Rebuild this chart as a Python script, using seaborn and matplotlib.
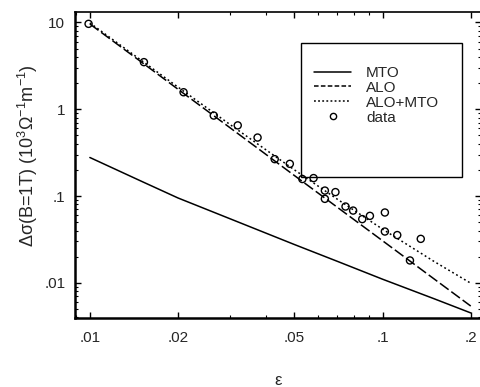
import numpy as np
import pandas as pd
import matplotlib
matplotlib.use("Agg")
import matplotlib.pyplot as plt
from matplotlib.patches import Rectangle
from matplotlib.lines import Line2D
import seaborn as sns

# ---- data ----
eps_curve = [0.01, 0.015, 0.02, 0.03, 0.05, 0.07, 0.1, 0.15, 0.2]
mto = [0.278, 0.148, 0.095, 0.055, 0.0276, 0.0177, 0.011, 0.00655, 0.0045]
alo = [9.6, 3.50, 1.70, 0.618, 0.172, 0.0743, 0.0305, 0.01107, 0.0054]
alo_mto = [9.88, 3.65, 1.80, 0.673, 0.200, 0.092, 0.0415, 0.0176, 0.0099]

data_eps = [0.0099, 0.0153, 0.0209, 0.0265, 0.0320, 0.0374, 0.0428, 0.0482,
            0.0532, 0.0581, 0.0635, 0.0690, 0.0635, 0.0747, 0.0793, 0.0852,
            0.0905, 0.1018, 0.1018, 0.1122, 0.135, 0.124]
data_y = [9.64, 3.49, 1.57, 0.846, 0.652, 0.472, 0.266, 0.235,
          0.157, 0.161, 0.1156, 0.111, 0.0928, 0.0757, 0.068, 0.0542,
          0.0591, 0.0646, 0.039, 0.0355, 0.0321, 0.0181]

curve_names = ["MTO", "ALO", "ALO+MTO"]
x_ticks = [0.01, 0.02, 0.05, 0.1, 0.2]
x_ticklabels = [".01", ".02", ".05", ".1", ".2"]
y_ticks = [0.01, 0.1, 1, 10]
y_ticklabels = [".01", ".1", "1", "10"]

# ---- styling ----
sns.set_style("ticks")
plt.rcParams["font.family"] = ["Liberation Sans", "DejaVu Sans"]
plt.rcParams["mathtext.fontset"] = "custom"
plt.rcParams["mathtext.rm"] = "Liberation Sans"
plt.rcParams["mathtext.it"] = "Liberation Sans:italic"
plt.rcParams["mathtext.default"] = "regular"

fig = plt.figure(figsize=(4.81, 3.87), dpi=100)
ax = fig.add_axes([0.156, 0.1775, 0.843, 0.7915])

df = pd.DataFrame({
    "eps": eps_curve * 3,
    "val": mto + alo + alo_mto,
    "curve": sum([[n] * len(eps_curve) for n in curve_names], []),
})
dash_map = {"MTO": "", "ALO": (7, 2.2), "ALO+MTO": (1.2, 1.8)}
sns.lineplot(data=df, x="eps", y="val", style="curve", style_order=curve_names,
             dashes=dash_map, color="black", linewidth=1.1, ax=ax, legend=False,
             sort=False)

sns.scatterplot(x=data_eps, y=data_y, marker="o", facecolor="none",
                edgecolor="black", linewidth=1.0, s=26, ax=ax, legend=False,
                zorder=3)

ax.set_xscale("log")
ax.set_yscale("log")
ax.set_xlim(0.0089, 0.216)
ax.set_ylim(0.0039, 13.2)

ax.set_xticks(x_ticks)
ax.set_xticklabels(x_ticklabels, fontsize=11)
ax.set_yticks(y_ticks)
ax.set_yticklabels(y_ticklabels, fontsize=11)
ax.xaxis.set_minor_locator(matplotlib.ticker.LogLocator(base=10, subs=np.arange(2, 10)))
ax.yaxis.set_minor_locator(matplotlib.ticker.LogLocator(base=10, subs=np.arange(2, 10)))
ax.xaxis.set_minor_formatter(matplotlib.ticker.NullFormatter())
ax.yaxis.set_minor_formatter(matplotlib.ticker.NullFormatter())
ax.tick_params(which="both", direction="in", top=True, right=True, color="black")
ax.tick_params(which="major", length=4, width=1)
ax.tick_params(axis="x", which="major", pad=9)
ax.tick_params(axis="y", which="major", pad=7)
ax.tick_params(which="minor", length=2.5, width=0.8)

for side in ["left", "bottom"]:
    ax.spines[side].set_linewidth(1.8)
ax.spines["top"].set_linewidth(1.2)
ax.spines["right"].set_linewidth(0.6)
for s in ax.spines.values():
    s.set_color("black")

ax.set_xlabel("ε", fontsize=12, labelpad=20)
ax.set_ylabel("Δσ(B=1T) (10$^3$Ω$^{-1}$m$^{-1}$)", fontsize=13, labelpad=3)
ax.yaxis.label.set_y(0.53)

# legend box
ax.add_patch(Rectangle((0.557, 0.461), 0.398, 0.437, transform=ax.transAxes,
                       fill=False, edgecolor="black", linewidth=1.0, zorder=4))
handles = [
    Line2D([], [], color="black", lw=1.1, linestyle="-"),
    Line2D([], [], color="black", lw=1.1, dashes=(3, 1.5)),
    Line2D([], [], color="black", lw=1.1, dashes=(1.2, 1.5)),
    Line2D([], [], color="black", marker="o", markerfacecolor="none",
           markersize=4.5, linestyle="none"),
]
leg = ax.legend(handles, curve_names + ["data"], loc="upper left",
                bbox_to_anchor=(0.59, 0.824), frameon=False, fontsize=11,
                handlelength=2.4, handletextpad=1.0, labelspacing=0.06,
                borderpad=0, borderaxespad=0)

fig.savefig("out.png", dpi=100)
